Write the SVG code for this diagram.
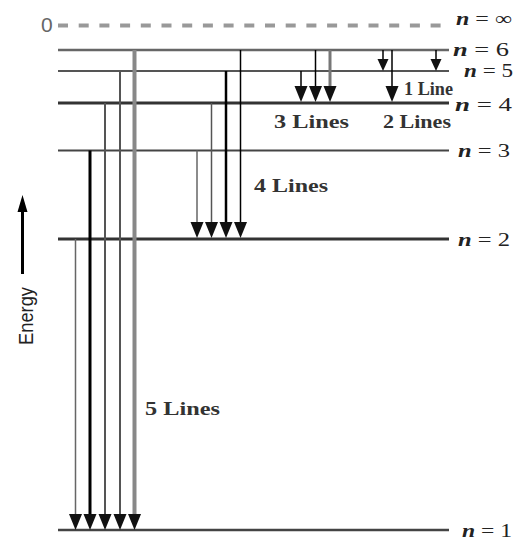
<svg xmlns="http://www.w3.org/2000/svg" width="516" height="540" viewBox="0 0 516 540">
<style>
.lvl{fill:none;stroke-linecap:butt}
.lbl{font-family:"Liberation Serif","Times New Roman",serif;font-size:19px;fill:#222}
.lbl tspan.n{font-style:italic;font-weight:bold}
.cnt{font-family:"Liberation Serif","Times New Roman",serif;font-size:19px;font-weight:bold;fill:#333}
.ar{fill:none;marker-end:url(#head)}
.sm{fill:none;marker-end:url(#small)}
</style>
<defs>
<marker id="head" markerUnits="userSpaceOnUse" markerWidth="20" markerHeight="16" viewBox="0 -8 20 16" refX="10" refY="0" orient="auto">
<path d="M0,-6.5 L16,0 L0,6.5 z" fill="#111"/>
</marker>
<marker id="small" markerUnits="userSpaceOnUse" markerWidth="16" markerHeight="14" viewBox="0 -7 16 14" refX="7" refY="0" orient="auto">
<path d="M0,-5.5 L12,0 L0,5.5 z" fill="#111"/>
</marker>
</defs>
<rect width="516" height="540" fill="#fff"/>

<g id="level-inf">
<line x1="58" y1="25.5" x2="450" y2="25.5" stroke="#999" stroke-width="4" stroke-dasharray="10 10.7"/>
<text x="41" y="32" font-family="Liberation Sans,sans-serif" font-size="21" fill="#666">0</text>
<text class="lbl" x="456" y="25" textLength="56" lengthAdjust="spacingAndGlyphs"><tspan class="n">n</tspan> = ∞</text>
</g>
<g id="level-6">
<line class="lvl" x1="58" y1="50" x2="449" y2="50" stroke="#666" stroke-width="2.5"/>
<text class="lbl" x="453" y="56" textLength="56" lengthAdjust="spacingAndGlyphs"><tspan class="n">n</tspan> = 6</text>
</g>
<g id="level-5">
<line class="lvl" x1="58" y1="71" x2="449" y2="71" stroke="#555" stroke-width="2"/>
<text class="lbl" x="464" y="77" textLength="49" lengthAdjust="spacingAndGlyphs"><tspan class="n">n</tspan> = 5</text>
</g>
<g id="level-4">
<line class="lvl" x1="58" y1="103" x2="449" y2="103" stroke="#333" stroke-width="3"/>
<text class="lbl" x="455" y="111" textLength="57" lengthAdjust="spacingAndGlyphs"><tspan class="n">n</tspan> = 4</text>
</g>
<g id="level-3">
<line class="lvl" x1="58" y1="150.5" x2="449" y2="150.5" stroke="#444" stroke-width="2"/>
<text class="lbl" x="458" y="157" textLength="52" lengthAdjust="spacingAndGlyphs"><tspan class="n">n</tspan> = 3</text>
</g>
<g id="level-2">
<line class="lvl" x1="58" y1="239" x2="449" y2="239" stroke="#333" stroke-width="3"/>
<text class="lbl" x="458" y="246" textLength="52" lengthAdjust="spacingAndGlyphs"><tspan class="n">n</tspan> = 2</text>
</g>
<g id="level-1">
<line class="lvl" x1="58" y1="530" x2="449" y2="530" stroke="#444" stroke-width="2.5"/>
<text class="lbl" x="462" y="537" textLength="50" lengthAdjust="spacingAndGlyphs"><tspan class="n">n</tspan> = 1</text>
</g>

<g id="connectors">
<line class="ar" x1="75.5" y1="239" x2="75.5" y2="524" stroke="#666" stroke-width="1.5"/>
<line class="ar" x1="90" y1="150.5" x2="90" y2="524" stroke="#000" stroke-width="3"/>
<line class="ar" x1="105" y1="103" x2="105" y2="524" stroke="#555" stroke-width="2"/>
<line class="ar" x1="120" y1="71" x2="120" y2="524" stroke="#555" stroke-width="2"/>
<line class="ar" x1="134.5" y1="50" x2="134.5" y2="524" stroke="#888" stroke-width="4"/>
<line class="ar" x1="197" y1="150.5" x2="197" y2="232" stroke="#666" stroke-width="1.5"/>
<line class="ar" x1="211.5" y1="103" x2="211.5" y2="232" stroke="#555" stroke-width="1.5"/>
<line class="ar" x1="226" y1="71" x2="226" y2="232" stroke="#000" stroke-width="2.5"/>
<line class="ar" x1="240.5" y1="50" x2="240.5" y2="232" stroke="#000" stroke-width="1.5"/>
<line class="ar" x1="301" y1="71" x2="301" y2="96" stroke="#000" stroke-width="1.5"/>
<line class="ar" x1="315.5" y1="50" x2="315.5" y2="96" stroke="#000" stroke-width="1.5"/>
<line class="ar" x1="330" y1="50" x2="330" y2="96" stroke="#777" stroke-width="3"/>
<line class="sm" x1="383" y1="50" x2="383" y2="66" stroke="#000" stroke-width="1.5"/>
<line class="ar" x1="392" y1="50" x2="392" y2="96" stroke="#000" stroke-width="1.5"/>
<line class="sm" x1="436" y1="50" x2="436" y2="66" stroke="#000" stroke-width="1.5"/>
</g>

<g id="series-labels">
<text class="cnt" x="274" y="128" textLength="75" lengthAdjust="spacingAndGlyphs">3 Lines</text>
<text class="cnt" x="383" y="128" textLength="68" lengthAdjust="spacingAndGlyphs">2 Lines</text>
<text class="cnt" x="404" y="95" textLength="49" lengthAdjust="spacingAndGlyphs">1 Line</text>
<text class="cnt" x="254" y="192" textLength="74" lengthAdjust="spacingAndGlyphs">4 Lines</text>
<text class="cnt" x="145" y="415" textLength="75" lengthAdjust="spacingAndGlyphs">5 Lines</text>
</g>

<g id="energy-axis">
<line x1="22.5" y1="274" x2="22.5" y2="208" stroke="#000" stroke-width="3"/>
<path d="M22.5,195 L27.5,212 L17.5,212 z" fill="#000"/>
<text x="0" y="0" transform="translate(33,345) rotate(-90)" font-family="Liberation Sans,sans-serif" font-size="20" fill="#222" textLength="58" lengthAdjust="spacingAndGlyphs">Energy</text>
</g>
</svg>
